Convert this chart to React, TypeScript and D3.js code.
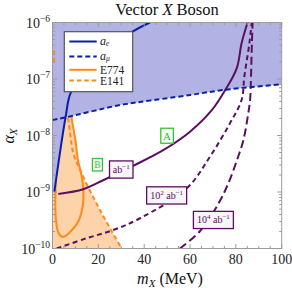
import React from 'react';
import * as d3 from 'd3';

// ---- data ----
const xTicks = [0, 20, 40, 60, 80, 100];
const yTicks = [1e-10, 1e-9, 1e-8, 1e-7, 1e-6];
const yTickExps = ['\u221210', '\u22129', '\u22128', '\u22127', '\u22126'];

// a_e (solid blue)
const aeMass = [0.8, 2.8, 5.7, 8.1, 18.5, 34.7, 42.5];
const aeAlpha = [1e-9, 3.7e-9, 2.1e-8, 5.9e-8, 2.17e-7, 6.8e-7, 1e-6];
// a_mu (dashed blue)
const amuMass = [0, 5.5, 29.5, 38.2, 60, 74.4, 100];
const amuAlpha = [1.88e-8, 2.08e-8, 3.47e-8, 3.92e-8, 5.21e-8, 6.38e-8, 8.05e-8];
// E774 (solid orange loop)
const e774Mass = [8.0, 8.3, 10.0, 11.1, 12.65, 13.44, 13.44, 12.87, 11.13, 7.64, 4.58, 2.62, 1.53, 1.22, 1.31, 1.44, 2.0];
const e774Alpha = [3.16e-8, 2.12e-8, 8.3e-9, 3.68e-9, 2.0e-9, 1.08e-9, 7.2e-10, 4.8e-10, 2.94e-10, 1.96e-10, 1.6e-10, 1.88e-10, 3.19e-10, 5.9e-10, 9.6e-10, 3.68e-9, 1.86e-8];
// E141 (dashed orange)
const e141Mass = [4.5, 6.9, 9.07, 12.74, 20.7, 30.2];
const e141Alpha = [5e-8, 1.88e-8, 4.9e-9, 2.14e-9, 4.8e-10, 1e-10];
const e141StubMass = [0.7, 0.7];
const e141StubAlpha = [3.2e-7, 1.95e-7];
// Belle II reach, 1 ab^-1 (solid purple)
const l1Mass = [2.5, 13.4, 20.7, 35.1, 48.3, 60.0, 69.5, 75.4, 80.4, 82.5, 85.1];
const l1Alpha = [9.2e-10, 1.12e-9, 1.52e-9, 2.9e-9, 5.5e-9, 1.17e-8, 2.8e-8, 6.4e-8, 1.56e-7, 4.3e-7, 1e-6];
// 10^2 ab^-1 (dashed purple)
const l2Mass = [1.8, 14.9, 26.5, 38.2, 58.6, 68.7, 77.4, 82.5, 83.7, 85.9, 86.9];
const l2Alpha = [1e-10, 1.52e-10, 2.12e-10, 3.43e-10, 1.16e-9, 4.22e-9, 1.64e-8, 4.25e-8, 1.1e-7, 4.29e-7, 1e-6];
// 10^4 ab^-1 (long-dashed purple)
const l4Mass = [55.6, 64.4, 72.3, 76.6, 80.5, 83.3, 85.3, 86.2, 86.6, 87.0, 87.3];
const l4Alpha = [1e-10, 2.04e-10, 6.14e-10, 1.39e-9, 3.68e-9, 8.32e-9, 2.31e-8, 4.25e-8, 1.08e-7, 4.34e-7, 1e-6];

// annotation labels
const lumiLabels = [
  { m: 30.0, a: 2.5e-9, base: 'ab', sup: '\u22121', pre: '', preSup: '', w: 23.5 },
  { m: 49.8, a: 8.7e-10, base: 'ab', sup: '\u22121', pre: '10', preSup: '2', w: 40 },
  { m: 70.2, a: 3.2e-10, base: 'ab', sup: '\u22121', pre: '10', preSup: '4', w: 40 },
];
const pointLabels = [
  { m: 50.0, a: 9.9e-9, text: 'A', w: 12.6, h: 15, fs: 11 },
  { m: 19.6, a: 3.04e-9, text: 'B', w: 10, h: 12.5, fs: 9.5 },
];

const BLUE = '#0b1fa3';
const BLUE_FILL = '#b2b2e5';
const ORANGE = '#ff8a1c';
const ORANGE_FILL = '#fdd3aa';
const PURPLE = '#5b0f60';
const GREEN = '#39c039';
const FRAME = '#9a9a9a';
const SERIF = '"Liberation Serif", "Times New Roman", serif';

export default function App() {
  const x = d3.scaleLinear().domain([0, 100]).range([52.5, 281.7]);
  const y = d3.scaleLog().domain([1e-10, 1e-6]).range([248.5, 22.5]);
  const pts = (ms: number[], as: number[]) => ms.map((m, i) => [x(m), y(as[i])] as [number, number]);
  const line = d3.line().curve(d3.curveCatmullRom.alpha(0.5));
  const closed = d3.line().curve(d3.curveCatmullRomClosed.alpha(0.5));

  const [x0, x1] = x.range();
  const [yb, yt] = y.range();

  const amuPath = line(pts(amuMass, amuAlpha)) as string;
  const aePath = line(pts(aeMass, aeAlpha)) as string;
  const e774Path = line(pts(e774Mass, e774Alpha)) as string;
  const e774Fill = closed(pts(e774Mass, e774Alpha)) as string;
  const e141Path = line(pts(e141Mass, e141Alpha)) as string;
  const e141Fill = e141Path + `L${x(0)},${y(1e-10)}L${x(0)},${y(e141Alpha[0])}Z`;
  const blueFillA = amuPath + `L${x(100)},${y(1e-6)}L${x(0)},${y(1e-6)}Z`;
  const blueFillB = aePath + `L${x(0)},${y(1e-6)}L${x(0)},${y(aeAlpha[0])}Z`;

  const xMinor = d3.range(0, 101, 5).filter((v) => v % 20 !== 0);
  const yMinor: number[] = [];
  for (let e = -10; e < -6; e++) for (let k = 2; k <= 9; k++) yMinor.push(k * Math.pow(10, e));

  const legendRows = [
    { y: 41.5, color: BLUE, dash: undefined, label: 'ae' },
    { y: 56.5, color: BLUE, dash: '5,3', label: 'amu' },
    { y: 69.8, color: ORANGE, dash: undefined, label: 'E774' },
    { y: 80.6, color: ORANGE, dash: '4.5,3', label: 'E141' },
  ];

  return (
    <svg width={292} height={288} style={{ position: 'absolute', left: 0, top: 0, background: '#fff' }} fontFamily={SERIF}>
      <defs>
        <clipPath id="plot">
          <rect x={x0} y={yt} width={x1 - x0} height={yb - yt} />
        </clipPath>
      </defs>
      <g clipPath="url(#plot)">
        {/* orange excluded regions */}
        <path d={e141Fill} fill={ORANGE_FILL} />
        <path d={e774Fill} fill={ORANGE_FILL} />
        <path d={e774Path} fill="none" stroke={ORANGE} strokeWidth={2} />
        <path d={e141Path} fill="none" stroke={ORANGE} strokeWidth={2} strokeDasharray="4.5,3" />
        {/* blue excluded regions */}
        <path d={blueFillA} fill={BLUE_FILL} />
        <path d={blueFillB} fill={BLUE_FILL} />
        <path d={line(pts(e141StubMass, e141StubAlpha)) as string} fill="none" stroke={ORANGE} strokeWidth={2} strokeDasharray="4.5,3" />
        {/* Belle II reach */}
        <path d={line(pts(l1Mass, l1Alpha)) as string} fill="none" stroke={PURPLE} strokeWidth={2} />
        <path d={line(pts(l2Mass, l2Alpha)) as string} fill="none" stroke={PURPLE} strokeWidth={2} strokeDasharray="5,3.5" />
        <path d={line(pts(l4Mass, l4Alpha)) as string} fill="none" stroke={PURPLE} strokeWidth={2} strokeDasharray="8,4" />
        {/* blue lines */}
        <path d={aePath} fill="none" stroke={BLUE} strokeWidth={2} />
        <path d={amuPath} fill="none" stroke={BLUE} strokeWidth={2} strokeDasharray="5,3" />
      </g>

      {/* luminosity labels */}
      {lumiLabels.map((l, i) => {
        const cx = x(l.m), cy = y(l.a);
        return (
          <g key={i}>
            <rect x={cx - l.w / 2} y={cy - 8.6} width={l.w} height={17.2} fill="#f7f5f7" stroke={PURPLE} strokeWidth={1.3} />
            <text x={cx} y={cy + 3.5} textAnchor="middle" fontSize={10} fill={PURPLE}>
              {l.pre}
              {l.preSup && <tspan fontSize={7} dy={-4}>{l.preSup}</tspan>}
              <tspan dy={l.preSup ? 4 : 0}>{(l.pre ? ' ' : '') + l.base}</tspan>
              <tspan fontSize={7} dy={-4}>{l.sup}</tspan>
            </text>
          </g>
        );
      })}
      {pointLabels.map((p, i) => {
        const cx = x(p.m), cy = y(p.a);
        return (
          <g key={i}>
            <rect x={cx - p.w / 2} y={cy - p.h / 2} width={p.w} height={p.h} fill="#f6fbf6" stroke={GREEN} strokeWidth={1.3} />
            <text x={cx} y={cy + p.fs * 0.36} textAnchor="middle" fontSize={p.fs} fill={GREEN}>{p.text}</text>
          </g>
        );
      })}

      {/* legend */}
      <rect x={64.3} y={31.7} width={68.4} height={60} fill="#fff" stroke="#555" strokeWidth={1.2} />
      {legendRows.map((r, i) => (
        <g key={i}>
          <line x1={69.3} x2={96.7} y1={r.y} y2={r.y} stroke={r.color} strokeWidth={2} strokeDasharray={r.dash} />
          <text x={100} y={r.y + (r.label.startsWith('a') ? 3 : 4)} fontSize={r.label.startsWith('a') ? 12 : 11.5} fill="#222">
            {r.label === 'ae' ? (
              <>
                <tspan fontStyle="italic">a</tspan>
                <tspan fontStyle="italic" fontSize={7.5} dy={1.5}>e</tspan>
              </>
            ) : r.label === 'amu' ? (
              <>
                <tspan fontStyle="italic">a</tspan>
                <tspan fontStyle="italic" fontSize={7.5} dy={1.5}>{'\u03bc'}</tspan>
              </>
            ) : (
              r.label
            )}
          </text>
        </g>
      ))}

      {/* frame and ticks */}
      <rect x={x0} y={yt} width={x1 - x0} height={yb - yt} fill="none" stroke={FRAME} strokeWidth={1} />
      {xTicks.map((t) => (
        <g key={'xt' + t} stroke={FRAME}>
          <line x1={x(t)} x2={x(t)} y1={yb} y2={yb - 4.5} />
          <line x1={x(t)} x2={x(t)} y1={yt} y2={yt + 4.5} />
        </g>
      ))}
      {xMinor.map((t) => (
        <g key={'xm' + t} stroke={FRAME}>
          <line x1={x(t)} x2={x(t)} y1={yb} y2={yb - 2.5} />
          <line x1={x(t)} x2={x(t)} y1={yt} y2={yt + 2.5} />
        </g>
      ))}
      {yTicks.map((t) => (
        <g key={'yt' + t} stroke={FRAME}>
          <line x1={x0} x2={x0 + 4.5} y1={y(t)} y2={y(t)} />
          <line x1={x1} x2={x1 - 4.5} y1={y(t)} y2={y(t)} />
        </g>
      ))}
      {yMinor.map((t) => (
        <g key={'ym' + t} stroke={FRAME}>
          <line x1={x0} x2={x0 + 2.5} y1={y(t)} y2={y(t)} />
          <line x1={x1} x2={x1 - 2.5} y1={y(t)} y2={y(t)} />
        </g>
      ))}

      {/* tick labels */}
      {xTicks.map((t) => (
        <text key={'xl' + t} x={x(t)} y={264.3} textAnchor="middle" fontSize={14} fill="#222">{String(t)}</text>
      ))}
      {yTicks.map((t, i) => (
        <text key={'yl' + t} x={50} y={y(t) + 5} textAnchor="end" fontSize={14} fill="#222">
          10<tspan fontSize={9.5} dy={-6}>{yTickExps[i]}</tspan>
        </text>
      ))}

      {/* titles */}
      <text x={167} y={15} textAnchor="middle" fontSize={16.5} fill="#111">
        Vector <tspan fontStyle="italic">X</tspan> Boson
      </text>
      <text x={170} y={284} textAnchor="middle" fontSize={16} fill="#111">
        <tspan fontStyle="italic">m</tspan>
        <tspan fontStyle="italic" fontSize={11} dy={3}>X</tspan>
        <tspan dy={-3}> (MeV)</tspan>
      </text>
      <text transform="translate(14,136) rotate(-90)" textAnchor="middle" fontSize={16} fill="#111">
        <tspan fontStyle="italic">{'\u03b1'}</tspan>
        <tspan fontStyle="italic" fontSize={11} dy={3}>X</tspan>
      </text>
    </svg>
  );
}
